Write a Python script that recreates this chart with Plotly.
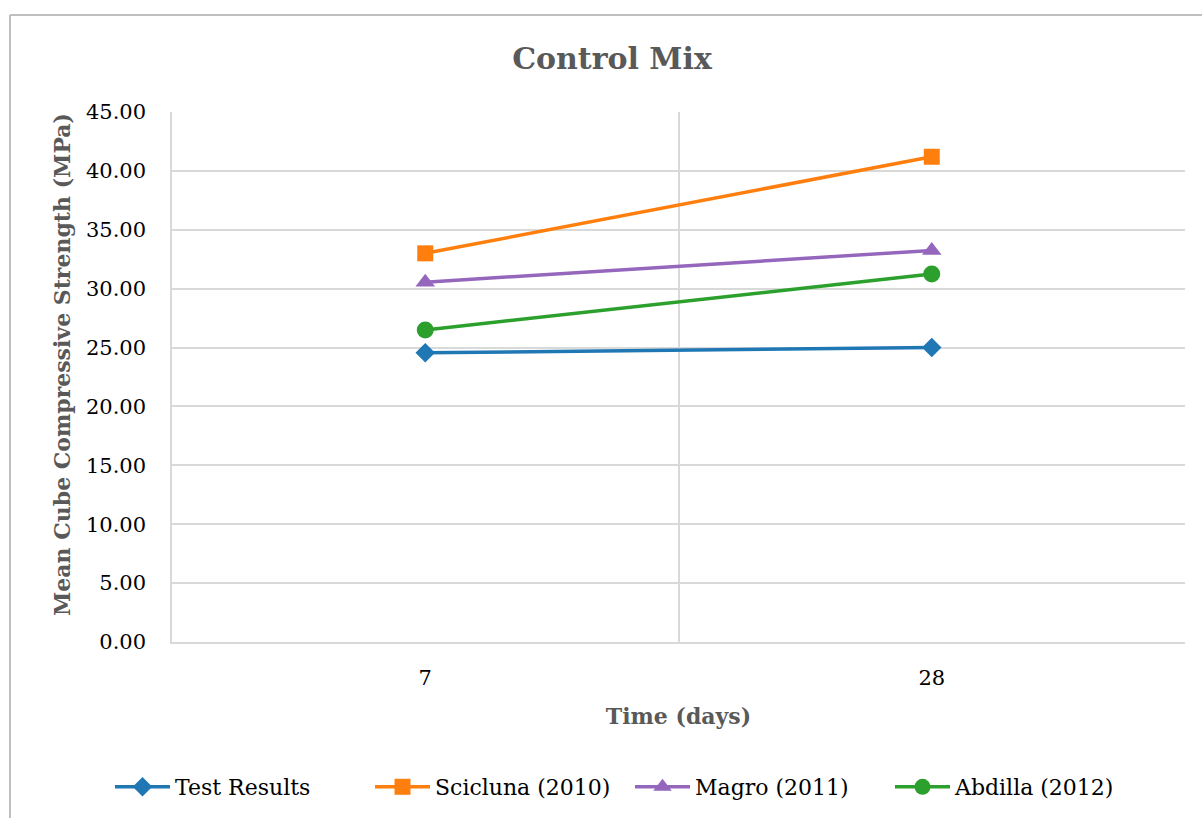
import plotly.graph_objects as go

# Curing age (days) and mean cube strengths (MPa)
ages = ["7", "28"]
test_results = [24.55, 25.0]
scicluna_2010 = [33.0, 41.2]
magro_2011 = [30.55, 33.25]
abdilla_2012 = [26.5, 31.25]
y_ticks = [0, 5, 10, 15, 20, 25, 30, 35, 40, 45]

series = [
    ("Test Results", test_results, "#1f77b4", "diamond", 15),
    ("Scicluna (2010)", scicluna_2010, "#ff7f0e", "square", 16),
    ("Magro (2011)", magro_2011, "#9467bd", "triangle-up", 17),
    ("Abdilla (2012)", abdilla_2012, "#2ca02c", "circle", 17),
]

FONT = "DejaVu Serif"

fig = go.Figure()
for name, vals, color, symbol, size in series:
    fig.add_trace(go.Scatter(
        x=ages, y=vals, name=name, mode="lines+markers",
        line=dict(color=color, width=3.5),
        marker=dict(symbol=symbol, size=size, color=color, line=dict(width=0)),
    ))

W, H = 1202, 818
L, R, T, B = 172, 17, 112, 176
pw, ph = W - L - R, H - T - B

# pixel -> paper coordinate helpers
def px_x(v):
    return (v - L) / pw

def px_y(v):
    return (H - B - v) / ph

# outer chart frame (top and left edges)
frame = dict(color="#BFBFBF", width=2)
fig.add_shape(type="line", xref="paper", yref="paper",
              x0=px_x(10), x1=px_x(1215), y0=px_y(15), y1=px_y(15), line=frame)
fig.add_shape(type="line", xref="paper", yref="paper",
              x0=px_x(10), x1=px_x(10), y0=px_y(15), y1=px_y(830), line=frame)

# y-axis title
fig.add_annotation(
    text="<b>Mean Cube Compressive Strength (MPa)</b>", textangle=-90,
    xref="paper", yref="paper", x=px_x(62), y=px_y(365),
    xanchor="center", yanchor="middle", showarrow=False,
    font=dict(family=FONT, size=22, color="#595959"),
)

fig.update_layout(
    width=W, height=H,
    margin=dict(l=L, r=R, t=T, b=B, autoexpand=False),
    paper_bgcolor="white", plot_bgcolor="white",
    font=dict(family=FONT, size=21, color="black"),
    title=dict(text="<b>Control Mix</b>", x=612 / W, xref="container", xanchor="center",
               y=1 - 58 / H, yref="container", yanchor="middle",
               font=dict(family=FONT, size=30, color="#595959")),
    showlegend=True,
    legend=dict(orientation="h", x=px_x(110), xref="paper", xanchor="left",
                y=px_y(787), yref="paper", yanchor="middle",
                font=dict(family=FONT, size=22, color="black"),
                itemwidth=55, entrywidth=190, entrywidthmode="pixels",
                tracegroupgap=0, bgcolor="rgba(0,0,0,0)"),
    xaxis=dict(
        type="category", range=[-0.5, 1.5],
        tickson="boundaries", showgrid=True, gridcolor="#D9D9D9", gridwidth=1.5,
        showline=True, linecolor="#D9D9D9", linewidth=1.5, mirror=False,
        ticks="", ticklabelstandoff=16,
        tickfont=dict(family=FONT, size=21, color="black"),
        title=dict(text="<b>Time (days)</b>", standoff=20,
                   font=dict(family=FONT, size=22, color="#595959")),
        zeroline=False,
    ),
    yaxis=dict(
        range=[0, 45], tickvals=y_ticks, tickformat=".2f",
        showgrid=True, gridcolor="#D9D9D9", gridwidth=1.5,
        showline=True, linecolor="#D9D9D9", linewidth=1.5,
        ticks="", ticklabelstandoff=20,
        tickfont=dict(family=FONT, size=21, color="black"),
        zeroline=False,
    ),
)

fig.write_html("out.html")
